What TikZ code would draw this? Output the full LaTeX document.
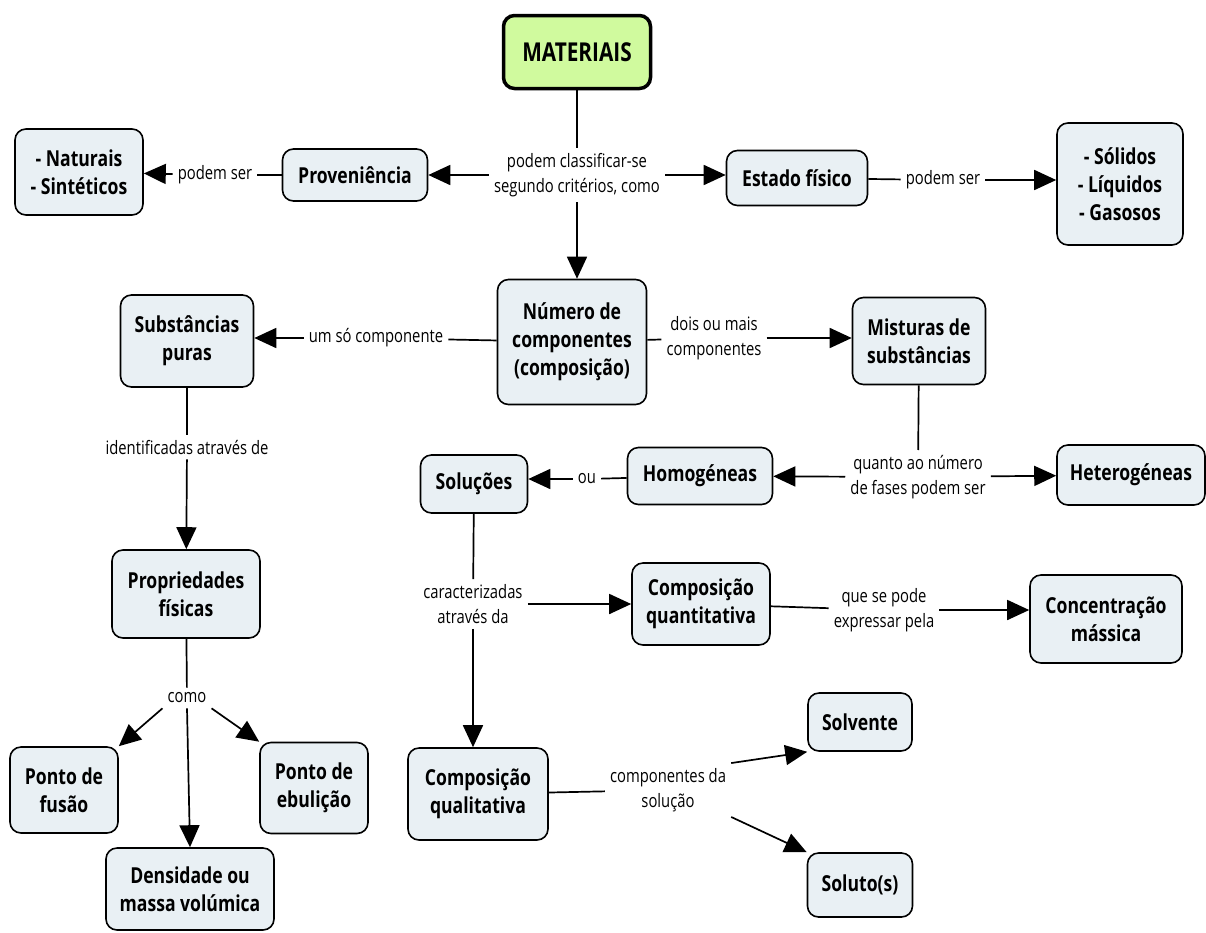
\documentclass[tikz,border=0pt]{standalone}
\usepackage{fontspec}
\setmainfont{Open Sans}[FakeStretch=0.8]
\usetikzlibrary{arrows.meta}
\definecolor{boxfill}{RGB}{233,240,244}
\definecolor{topfill}{RGB}{208,250,158}
\tikzset{
  concept/.style={draw, line width=1.6pt, rounded corners=11pt, fill=boxfill,
    align=center, inner sep=3pt, font=\fontsize{22}{28}\selectfont\bfseries},
  linkname/.style={align=center, inner sep=5pt, font=\fontsize{18.5}{25}\selectfont},
  ln/.style={line width=1.7pt},
  arr/.style={line width=1.7pt, -{Triangle[length=22pt,width=20pt]}}
}
\begin{document}
\begin{tikzpicture}[x=1pt,y=-1pt]
\useasboundingbox (0,0) rectangle (1206,932);
%draw concepts
\node[concept, line width=3.5pt, fill=topfill, minimum width=147pt, minimum height=73pt,
  font=\fontsize{26}{30}\selectfont\bfseries] (materiais) at (577,52) {MATERIAIS};
\node[concept, minimum width=145pt, minimum height=52pt] (prov) at (355,175) {Proveniência};
\node[concept, minimum width=128pt, minimum height=86pt] (nat) at (79,172) {- Naturais\\- Sintéticos};
\node[concept, minimum width=141pt, minimum height=55pt] (estado) at (797,178) {Estado físico};
\node[concept, minimum width=126pt, minimum height=122pt] (solidos) at (1120,184) {- Sólidos\\- Líquidos\\- Gasosos};
\node[concept, minimum width=149pt, minimum height=125pt] (numero) at (572,342) {Número de\\componentes\\(composição)};
\node[concept, minimum width=133pt, minimum height=92pt] (subst) at (187,341) {Substâncias\\puras};
\node[concept, minimum width=133pt, minimum height=87pt] (mist) at (919,341) {Misturas de\\substâncias};
\node[concept, minimum width=145pt, minimum height=57pt] (homog) at (700,476) {Homogéneas};
\node[concept, minimum width=148pt, minimum height=60pt] (heter) at (1131,475) {Heterogéneas};
\node[concept, minimum width=107pt, minimum height=58pt] (solu) at (474,484) {Soluções};
\node[concept, minimum width=148pt, minimum height=88pt] (prop) at (186,594) {Propriedades\\físicas};
\node[concept, minimum width=108pt, minimum height=86pt] (fusao) at (64,790) {Ponto de\\fusão};
\node[concept, minimum width=108pt, minimum height=91pt] (ebul) at (314,788) {Ponto de\\ebulição};
\node[concept, minimum width=168pt, minimum height=82pt] (dens) at (190,889) {Densidade ou\\massa volúmica};
\node[concept, minimum width=138pt, minimum height=82pt] (cquant) at (701,604) {Composição\\quantitativa};
\node[concept, minimum width=152pt, minimum height=88pt] (conc) at (1106,619) {Concentração\\mássica};
\node[concept, minimum width=140pt, minimum height=92pt] (cqual) at (478,794) {Composição\\qualitativa};
\node[concept, minimum width=104pt, minimum height=58pt] (solv) at (860,722) {Solvente};
\node[concept, minimum width=105pt, minimum height=64pt] (solut) at (860,885) {Soluto(s)};
%draw linking phrases
\node[linkname] (lclass) at (577,175) {podem classificar-se\\segundo critérios, como};
\node[linkname] (lser1) at (215,175) {podem ser};
\node[linkname] (lser2) at (943,180) {podem ser};
\node[linkname] (lum) at (376,338) {um só componente};
\node[linkname] (ldois) at (714,338) {dois ou mais\\componentes};
\node[linkname] (lfases) at (918,477) {quanto ao número\\de fases podem ser};
\node[linkname] (lou) at (587,479) {ou};
\node[linkname] (lident) at (187,447) {identificadas através de};
\node[linkname] (lcomo) at (187,698) {como};
\node[linkname] (lcarac) at (473,604) {caracterizadas\\através da};
\node[linkname] (lexpr) at (884,610) {que se pode\\expressar pela};
\node[linkname] (lcompsol) at (668,790) {componentes da\\solução};
%draw connectors
\draw[ln] (materiais) -- (lclass);
\draw[arr] (lclass) -- (lclass -| prov.east);
\draw[arr] (lclass) -- (lclass -| estado.west);
\draw[arr] (lclass.south) -- (lclass.south |- numero.north);
\draw[ln] (prov) -- (lser1);
\draw[arr] (lser1) -- (nat);
\draw[ln] (estado) -- (lser2);
\draw[arr] (lser2) -- (lser2 -| solidos.west);
\draw[ln] (numero) -- (lum);
\draw[arr] (lum) -- (lum -| subst.east);
\draw[ln] (numero) -- (ldois);
\draw[arr] (ldois) -- (ldois -| mist.west);
\draw[ln] (mist) -- (lfases);
\draw[arr] (lfases) -- (homog);
\draw[arr] (lfases) -- (heter);
\draw[ln] (homog) -- (lou);
\draw[arr] (lou) -- (lou -| solu.east);
\draw[ln] (subst) -- (lident);
\draw[arr] (lident) -- (prop);
\draw[ln] (prop) -- (lcomo);
\draw[arr] (lcomo.south west) -- (fusao.north east);
\draw[arr] (lcomo.south) -- (dens.north);
\draw[arr] (lcomo.south east) -- (ebul.north west);
\draw[ln] (solu) -- (lcarac);
\draw[arr] (lcarac) -- (cquant);
\draw[arr] (lcarac.south) -- (lcarac.south |- cqual.north);
\draw[ln] (cquant) -- (lexpr);
\draw[arr] (lexpr) -- (lexpr -| conc.west);
\draw[ln] (cqual) -- (lcompsol);
\draw[arr] (lcompsol.north east) -- (solv.south west);
\draw[arr] (lcompsol.south east) -- (solut.north west);
\end{tikzpicture}
\end{document}
